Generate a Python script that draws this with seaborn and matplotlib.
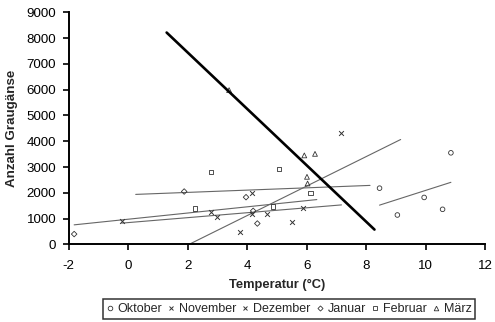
import numpy as np
import pandas as pd
import seaborn as sns
import matplotlib
matplotlib.use("Agg")
import matplotlib.pyplot as plt
from matplotlib.lines import Line2D

# Monatswerte: Temperatur (°C) und Anzahl Graugänse
months = ["Oktober", "November", "Dezember", "Januar", "Februar", "März"]
oktober_temp = [8.45, 9.05, 9.95, 10.57, 10.85]
oktober_count = [2180, 1140, 1820, 1360, 3550]
november_temp = [2.78, 4.68, 5.51, 5.87, 7.16]
november_count = [1250, 1190, 850, 1430, 4300]
dezember_temp = [-0.22, 2.98, 3.77, 4.17, 4.17]
dezember_count = [910, 1060, 480, 2010, 1190]
januar_temp = [-1.82, 1.88, 3.96, 4.20, 4.34]
januar_count = [400, 2050, 1830, 1300, 810]
februar_temp = [2.25, 2.78, 4.87, 5.07, 6.13]
februar_count = [1380, 2810, 1460, 2930, 1990]
maerz_temp = [3.39, 5.92, 6.01, 6.03, 6.28]
maerz_count = [5980, 3450, 2620, 2360, 3510]

# Trendlinien-Prognose rückwärts / vorwärts (°C)
forecast_back = [0, 2, 0, 0, 2, 2.1]
forecast_fwd = [0, 2, 3, 2, 2, 2]

temps = [oktober_temp, november_temp, dezember_temp, januar_temp, februar_temp, maerz_temp]
counts = [oktober_count, november_count, dezember_count, januar_count, februar_count, maerz_count]
markers = ["o", "x", "x", "D", "s", "^"]
sizes = [11, 12, 12, 8, 11, 12]

df = pd.concat(
    [pd.DataFrame({"Monat": m, "Temperatur": t, "Anzahl": c}) for m, t, c in zip(months, temps, counts)],
    ignore_index=True,
)

sns.set_style("ticks")
plt.rcParams["font.family"] = ["Liberation Sans", "DejaVu Sans"]
plt.rcParams["axes.unicode_minus"] = False

fig, ax = plt.subplots(figsize=(4.95, 3.22), dpi=100)
fig.subplots_adjust(left=0.139, right=0.980, top=0.962, bottom=0.241)

edge = "#333333"
for i, m in enumerate(months):
    sub = df[df["Monat"] == m]
    if markers[i] == "x":
        sns.scatterplot(data=sub, x="Temperatur", y="Anzahl", marker="x", color=edge,
                        s=sizes[i], linewidth=0.7, ax=ax, legend=False, zorder=3)
    else:
        sns.scatterplot(data=sub, x="Temperatur", y="Anzahl", marker=markers[i],
                        facecolors="none", edgecolors=edge, s=sizes[i], linewidth=0.6,
                        ax=ax, legend=False, zorder=3)

    # lineare Trendlinie
    p = np.polyfit(sub["Temperatur"], sub["Anzahl"], 1)
    xl = np.array([sub["Temperatur"].min() - forecast_back[i], sub["Temperatur"].max() + forecast_fwd[i]])
    if m == "März":
        ax.plot(xl, np.polyval(p, xl), color="black", lw=1.9, zorder=4)
    else:
        ax.plot(xl, np.polyval(p, xl), color="#666666", lw=0.8, zorder=2)

ax.set_xlim(-2, 12)
ax.set_ylim(0, 9000)
ax.set_xticks(range(-2, 13, 2))
ax.set_yticks(range(0, 9001, 1000))
sns.despine(ax=ax)
for s in ["left", "bottom"]:
    ax.spines[s].set_linewidth(1.4)
    ax.spines[s].set_color("black")
ax.tick_params(axis="both", direction="out", length=4, width=1.2, color="black",
               labelsize=9.6, labelcolor="black", pad=5)
ax.tick_params(axis="x", pad=7)
ax.set_xlabel("Temperatur (°C)", fontsize=9.3, fontweight="bold", labelpad=5)
ax.set_ylabel("Anzahl Graugänse", fontsize=9.6, fontweight="bold", labelpad=6)

handles = []
for i, m in enumerate(months):
    if markers[i] == "x":
        h = Line2D([], [], ls="none", marker="x", color=edge, markersize=3.3, mew=0.7)
    else:
        h = Line2D([], [], ls="none", marker=markers[i], mfc="none", mec=edge,
                   markersize=3.3 if markers[i] != "D" else 2.6, mew=0.6)
    handles.append(h)
leg = fig.legend(handles, months, loc="lower center", bbox_to_anchor=(0.584, 0.0),
                 ncol=6, fontsize=9, frameon=True, fancybox=False, edgecolor="black",
                 handlelength=0.45, handletextpad=0.4, columnspacing=0.5, borderpad=0.3,
                 borderaxespad=0.25)
leg.get_frame().set_linewidth(1.1)

fig.savefig("out.png", dpi=100)
